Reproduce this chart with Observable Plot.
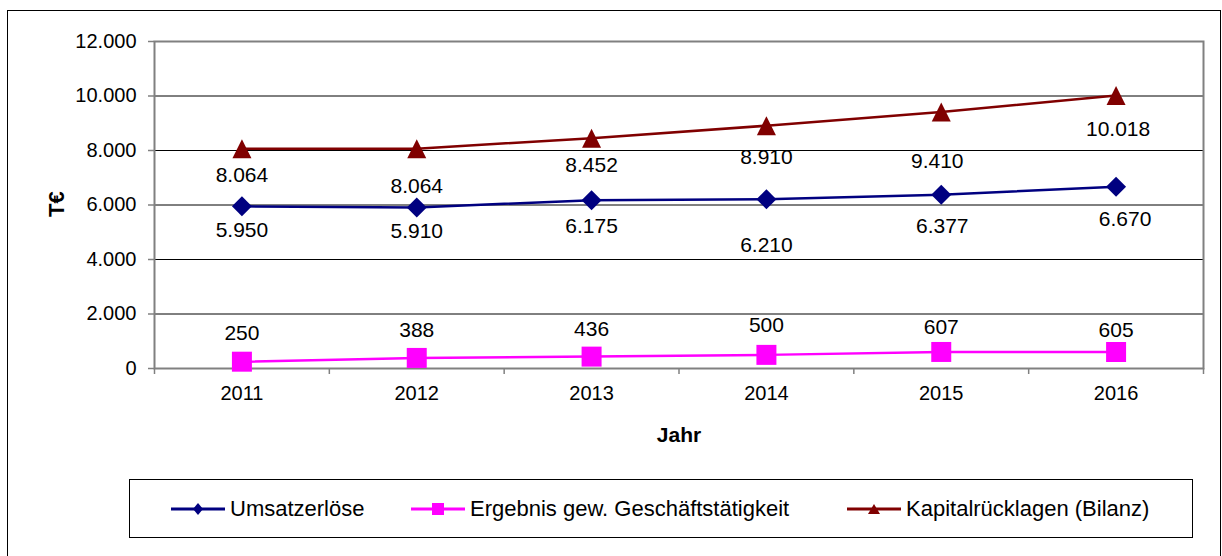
<!DOCTYPE html>
<html><head><meta charset="utf-8">
<script src="https://cdn.jsdelivr.net/npm/d3@7"></script>
<script src="https://cdn.jsdelivr.net/npm/@observablehq/plot@0.6"></script>
<style>
html,body{margin:0;padding:0;background:#fff;overflow:hidden;font-family:"Liberation Sans",Arial,sans-serif;}
#frame{position:absolute;left:7px;top:10px;width:1214px;height:560px;border:1px solid #000;box-sizing:border-box;}
#chart{position:absolute;left:0;top:0;}
#legend{position:absolute;left:129px;top:479px;width:1064px;height:59px;border:1px solid #000;box-sizing:border-box;background:#fff;}
.item{position:absolute;top:0;height:100%;display:flex;align-items:center;font-size:22px;color:#000;white-space:nowrap;}
.item svg{margin-right:5px;}
</style></head><body>
<div id="frame"></div>
<div id="chart"></div>
<div id="legend"></div>
<script>
// ---- data ----
const years = [2011, 2012, 2013, 2014, 2015, 2016];
const umsatz = [5950, 5910, 6175, 6210, 6377, 6670];
const ergebnis = [250, 388, 436, 500, 607, 605];
const kapital = [8064, 8064, 8452, 8910, 9410, 10018];
const yTicks = [0, 2000, 4000, 6000, 8000, 10000, 12000];
const seriesNames = ["Umsatzerlöse", "Ergebnis gew. Geschäftstätigkeit", "Kapitalrücklagen (Bilanz)"];
const xTitle = "Jahr";
const yTitle = "T€";

// ---- label placement (styling) ----
const umsatzLabelDy = [24, 24, 26, 46, 32, 33];
const umsatzLabelDx = [0, 0, 0, 0, 1, 9];
const ergebnisLabelDy = [-28, -28, -27, -30, -25, -22];
const kapitalLabelDy = [27, 38, 27, 32, 49, 34];
const kapitalLabelDx = [0, 0, 0, 0, -4, 2];

const colors = ["#000080", "#ff00ff", "#800000"];

const de = d3.formatLocale({decimal: ",", thousands: ".", grouping: [3], currency: ["", " €"]});
const fmt = de.format(",d");

const diamond = {draw(ctx, size){const h = Math.sqrt(size)/2; ctx.moveTo(0,-h); ctx.lineTo(h,0); ctx.lineTo(0,h); ctx.lineTo(-h,0); ctx.closePath();}};
const square = {draw(ctx, size){const h = Math.sqrt(size)/2; ctx.rect(-h,-h,2*h,2*h);}};
const triangle = {draw(ctx, size){const h = Math.sqrt(size)/2; ctx.moveTo(0,-h); ctx.lineTo(h,h); ctx.lineTo(-h,h); ctx.closePath();}};

const rows = (vals) => years.map((yr, i) => ({year: yr, value: vals[i], i}));
const dU = rows(umsatz), dE = rows(ergebnis), dK = rows(kapital);

const boundaries = [years[0] - 0.5, ...years.map(y => y + 0.5)];

const labelMarks = (data, dyArr, dxArr) => data.map((d, i) =>
  Plot.text([d], {x: "year", y: "value", text: d => fmt(d.value), dy: dyArr[i], dx: dxArr ? dxArr[i] : 0,
    lineAnchor: "middle", fontSize: 21, fill: "#000"}));

const chart = Plot.plot({
  width: 1222,
  height: 470,
  marginLeft: 154,
  marginRight: 19,
  marginTop: 41,
  marginBottom: 102,
  style: {fontFamily: "'Liberation Sans', Arial, sans-serif", fontSize: "20px", background: "transparent", color: "#000"},
  x: {type: "linear", domain: [years[0] - 0.5, years[years.length - 1] + 0.5]},
  y: {type: "linear", domain: [yTicks[0], yTicks[yTicks.length - 1]]},
  marks: [
    Plot.gridY({ticks: yTicks.filter(t => t > yTicks[0] && t < yTicks[yTicks.length - 1]), stroke: "#000", strokeOpacity: 1, strokeWidth: 1}),
    Plot.frame({stroke: "#808080", strokeWidth: 2}),
    Plot.axisY({ticks: yTicks, tickSize: 6, tickPadding: 12, tickFormat: fmt, stroke: "#808080", strokeWidth: 1.5, fontSize: 20, label: null}),
    Plot.axisX({ticks: boundaries, tickSize: 6, tickFormat: () => "", stroke: "#808080", strokeWidth: 1.5, label: null}),
    Plot.axisX({ticks: years, tickSize: 0, tickPadding: 17, tickFormat: d => String(d), fontSize: 20, label: null}),
    Plot.line(dK, {x: "year", y: "value", stroke: colors[2], strokeWidth: 2.5}),
    Plot.line(dU, {x: "year", y: "value", stroke: colors[0], strokeWidth: 2.5}),
    Plot.line(dE, {x: "year", y: "value", stroke: colors[1], strokeWidth: 2.5}),
    Plot.dot(dK, {x: "year", y: "value", symbol: triangle, r: 10.72, fill: colors[2], stroke: "none"}),
    Plot.dot(dU, {x: "year", y: "value", symbol: diamond, r: 11.28, fill: colors[0], stroke: "none"}),
    Plot.dot(dE, {x: "year", y: "value", symbol: square, r: 11.28, fill: colors[1], stroke: "none"}),
    ...labelMarks(dK, kapitalLabelDy, kapitalLabelDx),
    ...labelMarks(dU, umsatzLabelDy, umsatzLabelDx),
    ...labelMarks(dE, ergebnisLabelDy),
    Plot.text([yTitle], {frameAnchor: "left", rotate: -90, dx: -98, dy: 12, fontWeight: "bold", fontSize: 22, fill: "#000", lineAnchor: "middle"}),
    Plot.text([xTitle], {frameAnchor: "bottom", dy: 67, fontWeight: "bold", fontSize: 21, fill: "#000", lineAnchor: "middle"})
  ]
});
document.getElementById("chart").appendChild(chart);

// ---- legend ----
const legendPos = [41, 281, 717];
const legendSym = [
  '<path d="M27,4 L32,10 L27,16 L22,10 Z"/>',
  '<rect x="21" y="4" width="12" height="12"/>',
  '<path d="M27,5 L33,15 L21,15 Z"/>'
];
const legend = document.getElementById("legend");
seriesNames.forEach((name, i) => {
  const item = document.createElement("div");
  item.className = "item";
  item.style.left = legendPos[i] + "px";
  item.innerHTML = `<svg width="54" height="20"><line x1="0" x2="54" y1="10" y2="10" stroke="${colors[i]}" stroke-width="3"/><g fill="${colors[i]}">${legendSym[i]}</g></svg><span>${name}</span>`;
  legend.appendChild(item);
});
</script>
</body></html>
